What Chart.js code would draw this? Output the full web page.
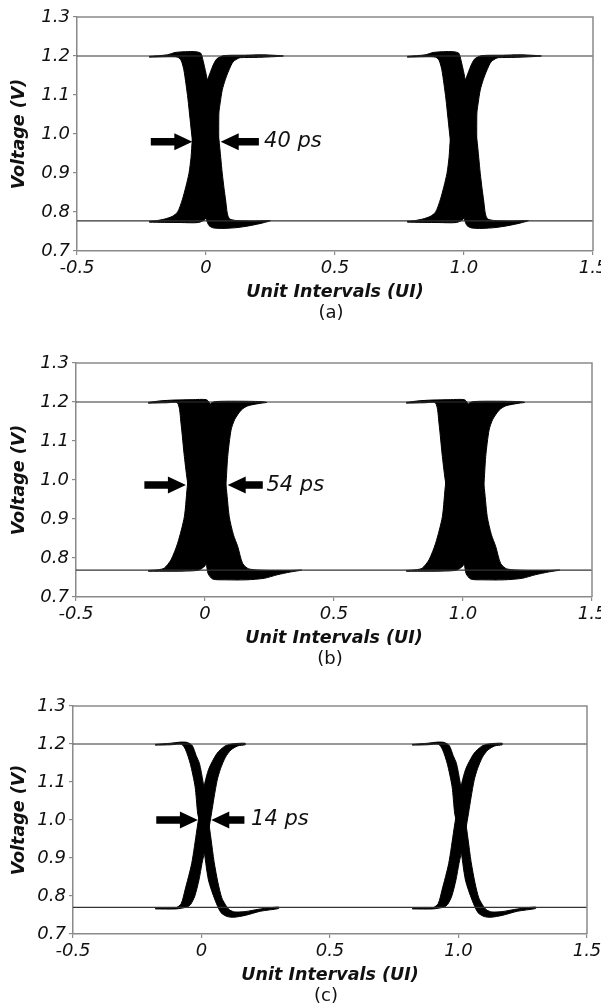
<!DOCTYPE html>
<html>
<head>
<meta charset="utf-8">
<title>Eye diagrams</title>
<script src="https://cdn.jsdelivr.net/npm/chart.js@4.4.1/dist/chart.umd.min.js"></script>
<style>
  html, body { margin: 0; padding: 0; background: #fff; overflow: hidden; }
  body { width: 601px; height: 1007px; position: relative; }
  .panel { position: absolute; left: 0; }
</style>
</head>
<body>
<div class="panel" style="top:0px"><canvas id="chartA" width="620" height="330"></canvas></div>
<div class="panel" style="top:346px"><canvas id="chartB" width="620" height="330"></canvas></div>
<div class="panel" style="top:689px"><canvas id="chartC" width="620" height="324"></canvas></div>
<script>
// axis ticks
const xTicks = [-0.5, 0, 0.5, 1.0, 1.5];
const xTickLabels = ['-0.5', '0', '0.5', '1.0', '1.5'];
const yTicks = [0.7, 0.8, 0.9, 1.0, 1.1, 1.2, 1.3];
const yTickLabels = ['0.7', '0.8', '0.9', '1.0', '1.1', '1.2', '1.3'];

// the eye folds onto two crossings (UI)
const crossingsUI = [0, 1];

// logic levels (V) for each panel
const levelsA = [1.2, 0.777];
const levelsB = [1.2, 0.769];
const levelsC = [1.2, 0.770];

// outline of the bundle of traces around a crossing, [UI, V]
const aFalling = [
  [-0.22, 1.199], [-0.15, 1.203], [-0.12, 1.209], [-0.08, 1.211], [-0.04, 1.211], [-0.02, 1.207],
  [-0.012, 1.19], [0.000, 1.155], [0.008, 1.125], [0.025, 1.06], [0.040, 1.015], [0.050, 0.985],
  [0.057, 0.94], [0.063, 0.899], [0.070, 0.86], [0.076, 0.831], [0.083, 0.795], [0.092, 0.782],
  [0.12, 0.778], [0.18, 0.777], [0.25, 0.778],
  [0.22, 0.772], [0.17, 0.765], [0.12, 0.760], [0.07, 0.758], [0.03, 0.759], [0.012, 0.765],
  [0.002, 0.78], [-0.01, 0.81], [-0.025, 0.86], [-0.040, 0.92], [-0.053, 0.985], [-0.062, 1.04],
  [-0.070, 1.09], [-0.078, 1.13], [-0.086, 1.165], [-0.096, 1.188], [-0.11, 1.197], [-0.15, 1.198], [-0.22, 1.197]
];
const aRising = [
  [-0.22, 0.776], [-0.19, 0.778], [-0.16, 0.782], [-0.13, 0.789], [-0.11, 0.80], [-0.092, 0.831],
  [-0.078, 0.865], [-0.066, 0.899], [-0.058, 0.94], [-0.053, 0.985], [-0.042, 1.035], [-0.025, 1.085],
  [-0.005, 1.12], [0.015, 1.155], [0.030, 1.18], [0.044, 1.194], [0.07, 1.201], [0.15, 1.202],
  [0.22, 1.203], [0.30, 1.200],
  [0.22, 1.197], [0.15, 1.196], [0.128, 1.195], [0.105, 1.185], [0.089, 1.164], [0.075, 1.14],
  [0.063, 1.113], [0.055, 1.08], [0.050, 1.054], [0.049, 0.985], [0.044, 0.93], [0.035, 0.875],
  [0.022, 0.83], [0.010, 0.80], [-0.004, 0.781], [-0.03, 0.773], [-0.10, 0.773], [-0.22, 0.774]
];

const bFalling = [
  [-0.22, 1.199], [-0.17, 1.203], [-0.12, 1.205], [-0.05, 1.206], [0.005, 1.206], [0.017, 1.198],
  [0.028, 1.17], [0.045, 1.11], [0.062, 1.05], [0.081, 0.987], [0.094, 0.906], [0.11, 0.86],
  [0.127, 0.829], [0.146, 0.786], [0.17, 0.772], [0.25, 0.768], [0.33, 0.768], [0.375, 0.769],
  [0.33, 0.764], [0.28, 0.757], [0.23, 0.748], [0.16, 0.744], [0.08, 0.744], [0.03, 0.746], [0.012, 0.76],
  [0.005, 0.786], [-0.015, 0.84], [-0.04, 0.90], [-0.067, 0.992], [-0.080, 1.06], [-0.093, 1.145],
  [-0.106, 1.197], [-0.15, 1.198], [-0.22, 1.197]
];
const bRising = [
  [-0.22, 0.768], [-0.18, 0.770], [-0.158, 0.774], [-0.132, 0.795], [-0.106, 0.838], [-0.080, 0.906],
  [-0.067, 0.992], [-0.045, 1.07], [-0.02, 1.13], [0.005, 1.175], [0.022, 1.196], [0.04, 1.201],
  [0.12, 1.202], [0.217, 1.201], [0.24, 1.199],
  [0.217, 1.197], [0.165, 1.19], [0.140, 1.179], [0.115, 1.155], [0.101, 1.128], [0.088, 1.06],
  [0.081, 0.987], [0.07, 0.92], [0.05, 0.86], [0.025, 0.81], [0.0, 0.78], [-0.03, 0.768], [-0.22, 0.766]
];

const cFalling = [
  [-0.18, 1.199], [-0.12, 1.202], [-0.08, 1.205], [-0.055, 1.204],
  [-0.036, 1.196], [-0.021, 1.17], [-0.008, 1.149], [0.006, 1.10], [0.016, 1.05], [0.026, 1.005],
  [0.037, 0.95], [0.049, 0.89], [0.064, 0.835], [0.079, 0.795], [0.096, 0.774], [0.11, 0.763],
  [0.13, 0.758], [0.17, 0.759], [0.23, 0.766], [0.30, 0.771],
  [0.30, 0.767], [0.23, 0.760], [0.17, 0.749], [0.125, 0.744], [0.100, 0.746], [0.076, 0.756],
  [0.053, 0.789], [0.027, 0.842], [0.008, 0.930], [-0.008, 0.996], [-0.015, 1.018], [-0.025, 1.088],
  [-0.044, 1.149], [-0.062, 1.185], [-0.077, 1.199], [-0.12, 1.198], [-0.18, 1.197]
];
const cRising = [
  [-0.18, 0.768], [-0.10, 0.769], [-0.079, 0.78], [-0.064, 0.816], [-0.038, 0.886], [-0.018, 0.974],
  [-0.008, 1.018], [0.001, 1.061], [0.027, 1.132], [0.060, 1.175], [0.09, 1.194], [0.116, 1.200],
  [0.17, 1.202], [0.17, 1.198], [0.141, 1.195], [0.114, 1.184], [0.093, 1.165], [0.074, 1.135],
  [0.061, 1.105], [0.049, 1.06], [0.039, 1.018], [0.028, 0.974], [0.016, 0.93], [0.002, 0.886],
  [-0.010, 0.842], [-0.026, 0.800], [-0.042, 0.778], [-0.056, 0.771], [-0.10, 0.766], [-0.18, 0.766]
];

// eye-closure jitter labels
const jitterLabels = ['40 ps', '54 ps', '14 ps'];
const panelLetters = ['(a)', '(b)', '(c)'];

const FONT = '"DejaVu Sans", "Liberation Sans", sans-serif';
const AXIS_GRAY = '#8a8a8a';

function drawArrow(ctx, xTail, xTip, y) {
    const d = xTip > xTail ? 1 : -1;
    const headLen = 18, headHalf = 8.5, shaftHalf = 3.7;
    const xb = xTip - d * headLen;
    ctx.beginPath();
    ctx.moveTo(xTail, y - shaftHalf);
    ctx.lineTo(xb, y - shaftHalf);
    ctx.lineTo(xb, y - headHalf);
    ctx.lineTo(xTip, y);
    ctx.lineTo(xb, y + headHalf);
    ctx.lineTo(xb, y + shaftHalf);
    ctx.lineTo(xTail, y + shaftHalf);
    ctx.closePath();
    ctx.fill();
}

// frame, jitter arrows and panel letter
const eyeMarks = {
    id: 'eyeMarks',
    afterDraw(chart, args, opts) {
        const {ctx, chartArea, scales} = chart;
        const x = scales.x, y = scales.y;
        ctx.save();
        ctx.strokeStyle = AXIS_GRAY;
        ctx.lineWidth = 1.5;
        ctx.beginPath();
        ctx.moveTo(chartArea.left, chartArea.top);
        ctx.lineTo(chartArea.right, chartArea.top);
        ctx.lineTo(chartArea.right, chartArea.bottom);
        ctx.stroke();

        ctx.fillStyle = '#000';
        const yp = y.getPixelForValue(opts.arrowV);
        drawArrow(ctx, x.getPixelForValue(opts.left[0]), x.getPixelForValue(opts.left[1]), yp);
        drawArrow(ctx, x.getPixelForValue(opts.right[0]), x.getPixelForValue(opts.right[1]), yp);

        ctx.fillStyle = '#111';
        ctx.font = 'italic 21px ' + FONT;
        ctx.textAlign = 'left';
        ctx.textBaseline = 'middle';
        ctx.fillText(opts.text, x.getPixelForValue(opts.textX), yp);

        ctx.font = '18px ' + FONT;
        ctx.textAlign = 'center';
        ctx.fillText(opts.letter, (chartArea.left + chartArea.right) / 2 - 4, chartArea.bottom + 62);
        ctx.restore();
    }
};

function makeChart(canvasId, p) {
    const datasets = [];
    p.levels.forEach(v => {
        datasets.push({
            data: [{x: xTicks[0], y: v}, {x: xTicks[xTicks.length - 1], y: v}],
            showLine: true, fill: false, borderColor: '#333', borderWidth: 1.2, pointRadius: 0
        });
    });
    crossingsUI.forEach(c => {
        [p.falling, p.rising].forEach(band => {
            datasets.push({
                data: band.map(pt => ({x: pt[0] + c, y: pt[1]})),
                showLine: true, fill: 'shape', backgroundColor: '#000', tension: 0.25,
                borderColor: '#000', borderWidth: 1, pointRadius: 0
            });
        });
    });

    const canvas = document.getElementById(canvasId);
    return new Chart(canvas, {
        type: 'scatter',
        data: {datasets},
        options: {
            responsive: false,
            animation: false,
            events: [],
            layout: {padding: {top: 17, left: 0, right: canvas.width - p.right, bottom: 0}},
            plugins: {
                legend: {display: false},
                tooltip: {enabled: false},
                eyeMarks: p.marks
            },
            scales: {
                x: {
                    type: 'linear', min: -0.5, max: 1.5,
                    afterBuildTicks: s => { s.ticks = xTicks.map(v => ({value: v})); },
                    afterFit: s => { s.height = p.xAxisH; },
                    ticks: {
                        callback: (v, i) => xTickLabels[i],
                        font: {family: FONT, size: 18, style: 'italic'},
                        color: '#111', padding: 3, maxRotation: 0, autoSkip: false
                    },
                    grid: {drawOnChartArea: false, drawTicks: true, tickLength: 4, color: AXIS_GRAY, lineWidth: 1.2},
                    border: {display: true, color: AXIS_GRAY, width: 1.5},
                    title: {
                        display: true, text: 'Unit Intervals (UI)', color: '#111',
                        font: {family: FONT, size: 17.5, weight: 'bold', style: 'italic'},
                        padding: {top: 0, bottom: 27.5}
                    }
                },
                y: {
                    min: 0.7, max: 1.3,
                    afterBuildTicks: s => { s.ticks = yTicks.map(v => ({value: v})); },
                    afterFit: s => { s.width = p.left; },
                    ticks: {
                        callback: (v, i) => yTickLabels[i],
                        font: {family: FONT, size: 18, style: 'italic'},
                        color: '#111', padding: 3
                    },
                    grid: {drawOnChartArea: false, drawTicks: true, tickLength: 4, color: AXIS_GRAY, lineWidth: 1.2},
                    border: {display: true, color: AXIS_GRAY, width: 1.5},
                    title: {
                        display: true, text: 'Voltage (V)', color: '#111',
                        font: {family: FONT, size: 17.5, weight: 'bold', style: 'italic'},
                        padding: {top: 8.5, bottom: 0}
                    }
                }
            }
        },
        plugins: [eyeMarks]
    });
}

makeChart('chartA', {
    levels: levelsA, falling: aFalling, rising: aRising,
    left: 77, right: 593, xAxisH: 79,
    marks: {arrowV: 0.98, left: [-0.214, -0.053], right: [0.205, 0.057], textX: 0.225,
            text: jitterLabels[0], letter: panelLetters[0]}
});
makeChart('chartB', {
    levels: levelsB, falling: bFalling, rising: bRising,
    left: 76, right: 592, xAxisH: 79,
    marks: {arrowV: 0.987, left: [-0.235, -0.074], right: [0.224, 0.088], textX: 0.238,
            text: jitterLabels[1], letter: panelLetters[1]}
});
makeChart('chartC', {
    levels: levelsC, falling: cFalling, rising: cRising,
    left: 73, right: 587, xAxisH: 79,
    marks: {arrowV: 1.0, left: [-0.176, -0.014], right: [0.167, 0.038], textX: 0.193,
            text: jitterLabels[2], letter: panelLetters[2]}
});
</script>
</body>
</html>
